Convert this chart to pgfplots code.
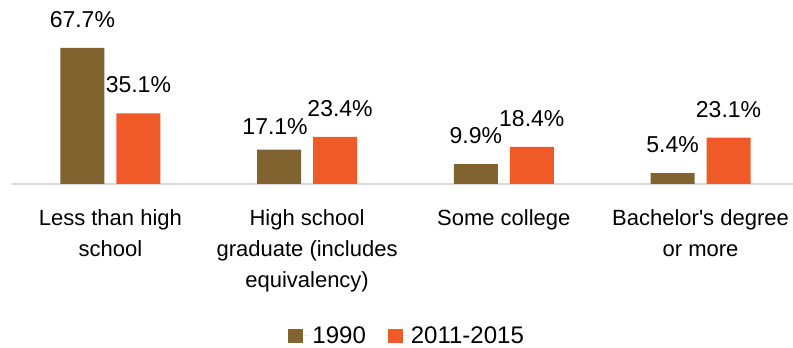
\documentclass[border=0pt]{standalone}
\usepackage{pgfplots}
\pgfplotsset{compat=1.18}
\usepackage{pgfplotstable}
\usepackage{fontspec}
\setmainfont{Liberation Sans}
\newfontfamily\plainfont{Liberation Sans}
\definecolor{cBrown}{HTML}{80632E}
\definecolor{cOrange}{HTML}{F05A28}
\definecolor{cGray}{HTML}{D9D9D9}

\pgfplotstableread{
x y dx dy
0 67.7 0 0
1 17.1 -4 -5
2 9.9 0 0
3 5.4 0 0
}\tA
\pgfplotstableread{
x y dx dy
0 35.1 0 0
1 23.4 5 0
2 18.4 0 0
3 23.1 0 0
}\tB

\begin{document}
\begin{tikzpicture}
\useasboundingbox (0,0) rectangle (793pt,348pt);
\begin{axis}[
  at={(12pt,164pt)}, anchor=south west,
  scale only axis, width=781pt, height=184pt,
  xmin=-0.5, xmax=3.47, ymin=0, ymax=91.5,
  ybar=12pt, bar width=44pt,
  axis x line*=bottom, axis y line=none,
  x axis line style={cGray, line width=2pt},
  xtick={0,1,2,3},
  xticklabels={{Less than high\\school},{High school\\graduate (includes\\equivalency)},{Some college},{Bachelor{\plainfont '}s degree\\or more}},
  major tick length=0pt, ytick=\empty,
  xticklabel style={font=\fontsize{22}{31}\selectfont, align=center, anchor=north, inner sep=0pt, yshift=-25pt},
  /pgf/number format/assume math mode=true,
  nodes near coords={\pgfmathprintnumber[fixed,precision=1,fixed zerofill]{\pgfplotspointmeta}\%},
  visualization depends on={\thisrow{dx} \as \dx},
  visualization depends on={\thisrow{dy} \as \dy},
  every node near coord/.append style={font=\fontsize{23}{27}\selectfont, text=black, anchor=south, inner sep=0pt, yshift=20pt, xshift=\dx pt, yshift=\dy pt},
  legend style={at={(0.506,-0.826)}, anchor=center, draw=none, fill=none,
    legend columns=2, font=\fontsize{24}{28}\selectfont,
    /tikz/every even column/.append style={column sep=20pt}},
  clip=false,
]
\addplot[fill=cBrown, draw=none, legend image code/.code={\fill[cBrown] (0pt,-7pt) rectangle (15pt,7pt); \path (0pt,0pt) -- (22pt,0pt);}] table[x=x,y=y] {\tA};
\addlegendentry{1990}
\addplot[fill=cOrange, draw=none, legend image code/.code={\fill[cOrange] (0pt,-7pt) rectangle (15pt,7pt); \path (0pt,0pt) -- (21pt,0pt);}] table[x=x,y=y] {\tB};
\addlegendentry{2011-2015}
\end{axis}
\end{tikzpicture}
\end{document}
